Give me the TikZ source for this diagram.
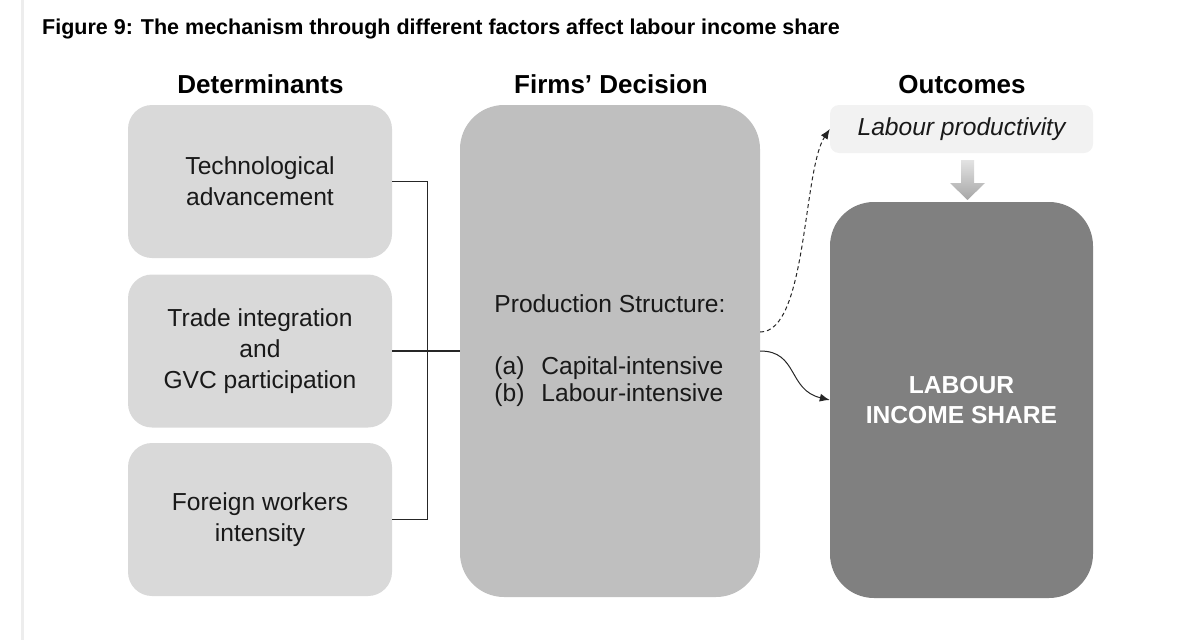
\documentclass[tikz,border=0pt]{standalone}
\usepackage{fontspec}
\setmainfont{Liberation Sans}
\usetikzlibrary{arrows.meta}

\definecolor{detfill}{HTML}{D9D9D9}
\definecolor{midfill}{HTML}{BFBFBF}
\definecolor{prodfill}{HTML}{F2F2F2}
\definecolor{lisfill}{HTML}{808080}
\definecolor{linecol}{HTML}{262626}
\definecolor{margincol}{HTML}{EDEDED}

\newcommand\bodyfont{\fontsize{24.6}{31}\selectfont}
\newcommand\headfont{\fontsize{26}{30}\selectfont\bfseries}
\newcommand\titlefont{\fontsize{21.5}{26}\selectfont\bfseries}

\begin{document}
\begin{tikzpicture}[x=1pt,y=-1pt,
  detbox/.style={fill=detfill,rounded corners=24pt,minimum width=264pt,
    minimum height=153pt,inner sep=0pt,align=center,font=\bodyfont,text=black!90},
  midbox/.style={fill=midfill,rounded corners=44pt,minimum width=300pt,
    minimum height=492pt,inner sep=0pt,align=left,font=\bodyfont,text=black!90},
  prodbox/.style={fill=prodfill,rounded corners=9pt,minimum width=263pt,
    minimum height=48pt,inner sep=0pt,font=\bodyfont\itshape,text=black!90},
  lisbox/.style={fill=lisfill,rounded corners=44pt,minimum width=263pt,
    minimum height=396pt,inner sep=0pt,align=center,
    font=\fontsize{24.6}{30}\selectfont\bfseries,text=white},
  header/.style={anchor=base,font=\headfont,inner sep=0pt},
  conn/.style={draw=linecol,line width=1pt},
  tip/.style={-{Latex[length=10pt,width=8pt]}},
]
\useasboundingbox (0,0) rectangle (1189,640);

% faint page margin rule
\draw[margincol,line width=3pt] (22,0) -- (22,640);

% title and column headers
\node[anchor=base west,inner sep=0pt,font=\titlefont] (title) at (42,34)
  {Figure 9: The mechanism through different factors affect labour income share};
\node[header] (hdet) at (260.5,93) {Determinants};
\node[header] (hfirm) at (611,93) {Firms’ Decision};
\node[header] (hout) at (962,93) {Outcomes};

% determinants
\node[detbox] (det1) at (260,181.5) {Technological\\advancement};
\node[detbox] (det2) at (260,351) {Trade integration\\and\\GVC participation};
\node[detbox] (det3) at (260,519.5) {Foreign workers\\intensity};

% firms' decision
\node[midbox] (mid) at (610,351)
  {Production Structure:\\[31pt]
   \makebox[47pt][l]{(a)}Capital-intensive\\[-4pt]
   \makebox[47pt][l]{(b)}Labour-intensive};

% outcomes
\node[prodbox] (prod) at (961.5,129) {Labour productivity};
\node[lisbox] (lis) at (961.5,400) {LABOUR\\INCOME SHARE};

% block arrow from productivity down to the income share
\shade[top color=gray!22,bottom color=gray!70]
  (961,160) -- (974,160) -- (974,183) -- (985,183) -- (967.5,200)
  -- (950,183) -- (961,183) -- cycle;

% bracket joining the determinants
\draw[conn] (det1.east) -- ++(35,0) coordinate (j1) -- (j1 |- det3.east) -- (det3.east);
\draw[conn,line width=1.6pt] (det2.east) -- (mid.west);

% links from production structure to outcomes
\draw[conn,dashed,dash pattern=on 4pt off 3pt,tip]
  ([yshift=19pt]mid.east) .. controls +(47,0) and +(-27,41) .. (prod.west);
\draw[conn,tip]
  (mid.east) .. controls +(38,0) and +(-42,-10) .. (lis.west);
\end{tikzpicture}
\end{document}
